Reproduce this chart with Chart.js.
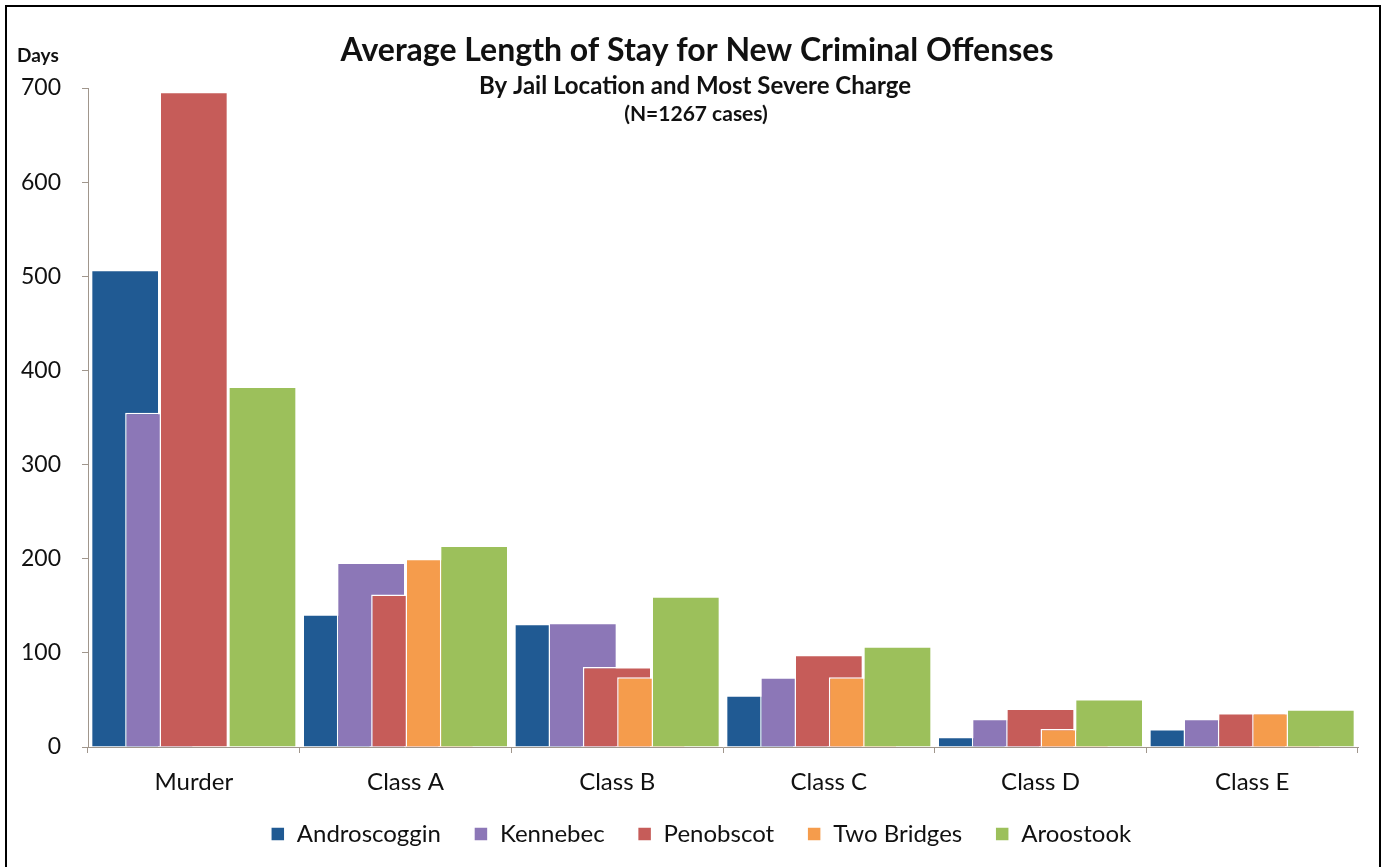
<!DOCTYPE html>
<html>
<head>
<meta charset="utf-8">
<script src="https://cdn.jsdelivr.net/npm/chart.js@4.4.1/dist/chart.umd.min.js"></script>
<style>
  html, body { margin: 0; padding: 0; background: #fff; }
  #wrap { position: relative; width: 1389px; height: 867px; }
  #frame { position: absolute; left: 5px; top: 5px; width: 1376px; height: 880px; border: 2px solid #000; border-bottom: none; pointer-events: none; box-sizing: border-box; }
</style>
</head>
<body>
<div id="wrap">
  <canvas id="c" width="1389" height="867"></canvas>
  <div id="frame"></div>
</div>
<script>
const categories = ['Murder', 'Class A', 'Class B', 'Class C', 'Class D', 'Class E'];
const seriesNames = ['Androscoggin', 'Kennebec', 'Penobscot', 'Two Bridges', 'Aroostook'];
const androscoggin = [507, 141, 131, 55, 11, 19];
const kennebec     = [355, 196, 132, 74, 30, 30];
const penobscot    = [696, 162, 85, 98, 41, 36];
const twoBridges   = [null, 200, 74, 74, 19, 36];
const aroostook    = [383, 214, 160, 107, 51, 40];
const yTicks = [0, 100, 200, 300, 400, 500, 600, 700];
const titleLines = ['Average Length of Stay for New Criminal Offenses', 'By Jail Location and Most Severe Charge', '(N=1267 cases)'];
const yAxisLabel = 'Days';

const colors = ['#205a93', '#8c77b7', '#c65c59', '#f59c4c', '#9cc05b'];
const seriesValues = [androscoggin, kennebec, penobscot, twoBridges, aroostook];

const FONT = 'Lato, "Open Sans", sans-serif';

const datasets = seriesNames.map((name, i) => ({
  label: name,
  data: seriesValues[i],
  backgroundColor: colors[i],
  borderColor: '#ffffff',
  borderWidth: 1.5,
  borderSkipped: 'bottom'
}));

// Draw datasets left-to-right so later series overlap earlier ones
const orderPlugin = {
  id: 'orderPlugin',
  beforeDatasetsDraw(chart) {
    const metas = chart.getSortedVisibleDatasetMetas().slice().sort((a, b) => a.index - b.index);
    for (const m of metas) m.controller.draw();
    return false;
  },
  afterLayout(chart) {
    if (chart.legend) {
      chart.legend.left += 22;
      chart.legend.right += 22;
      chart.legend.top -= 24;
      chart.legend.bottom -= 24;
    }
  }
};

const titlePlugin = {
  id: 'titlePlugin',
  afterDraw(chart) {
    const ctx = chart.ctx;
    ctx.save();
    ctx.fillStyle = '#111';
    ctx.textAlign = 'center';
    ctx.textBaseline = 'alphabetic';
    ctx.font = 'bold 32px ' + FONT;
    ctx.fillText(titleLines[0], 697, 61);
    ctx.font = 'bold 24px ' + FONT;
    ctx.fillText(titleLines[1], 695, 94);
    ctx.font = 'bold 21px ' + FONT;
    ctx.fillText(titleLines[2], 696, 121);
    ctx.textAlign = 'left';
    ctx.font = 'bold 19px ' + FONT;
    ctx.fillText(yAxisLabel, 17, 62);
    ctx.restore();
  }
};

new Chart(document.getElementById('c'), {
  type: 'bar',
  data: { labels: categories, datasets },
  options: {
    responsive: false,
    animation: false,
    layout: { padding: { top: 88, left: 0, right: 31, bottom: -13 } },
    datasets: { bar: { categoryPercentage: 0.811, barPercentage: 2.0 } },
    plugins: {
      legend: {
        position: 'bottom',
        labels: {
          font: { family: FONT, size: 24 },
          color: '#111',
          boxWidth: 14,
          boxHeight: 14,
          padding: 33
        }
      },
      title: { display: false },
      tooltip: { enabled: false }
    },
    scales: {
      x: {
        offset: true,
        afterFit(s) { s.height = 66; },
        grid: { offset: true, drawOnChartArea: false, tickLength: 6, color: '#a0968c' },
        border: { color: '#a0968c', width: 1 },
        ticks: { font: { family: FONT, size: 24 }, color: '#111', padding: 15 }
      },
      y: {
        min: 0, max: 700,
        afterFit(s) { s.width = 88; },
        afterBuildTicks(s) { s.ticks = yTicks.map(v => ({ value: v })); },
        grid: { drawOnChartArea: false, tickLength: 6, color: '#a0968c' },
        border: { color: '#a0968c', width: 1 },
        ticks: { font: { family: FONT, size: 23 }, color: '#111', padding: 21 }
      }
    }
  },
  plugins: [orderPlugin, titlePlugin]
});
</script>
</body>
</html>
